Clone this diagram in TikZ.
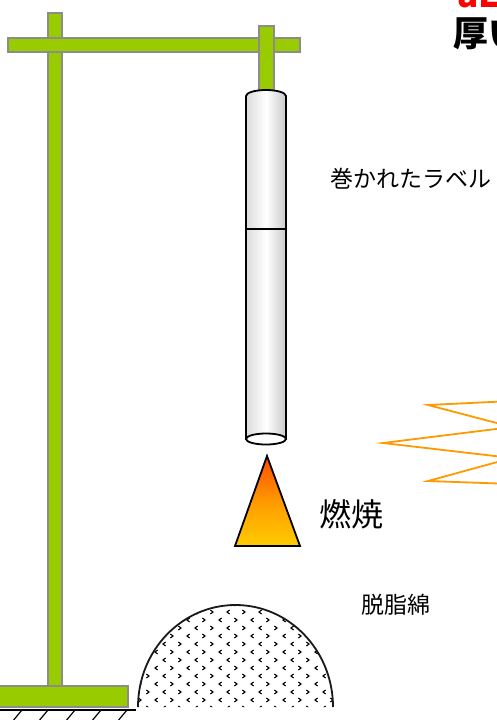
\documentclass[tikz,border=0pt]{standalone}
\usepackage{fontspec}
\newfontfamily\jp{Noto Sans CJK JP}

\definecolor{standgreen}{HTML}{99CC00}
\definecolor{flamered}{HTML}{FF4A00}
\definecolor{flameorange}{HTML}{FF9A00}
\definecolor{flameyellow}{HTML}{FFCC00}
\definecolor{sparkorange}{HTML}{FF9900}

\begin{document}
\begin{tikzpicture}[
  x=1pt, y=-1pt,
  stand/.style={fill=standgreen,draw=gray!90,line width=1.4pt},
  tube/.style={left color=gray!28,right color=gray!42,middle color=white,draw=black,line width=1.8pt},
  flame/.style={top color=flamered,bottom color=flameyellow,middle color=flameorange,draw=black,line width=1.8pt},
  spark/.style={draw=sparkorange,line width=1.8pt,line join=miter},
  fibre/.style={line width=1.1pt},
  label/.style={font=\jp\fontsize{23}{26}\selectfont,text=black,inner sep=0pt},
  title/.style={font=\jp\bfseries\fontsize{35}{40}\selectfont,inner sep=0pt}
]
  \clip (0,0) rectangle (497,720);

  % stand: pole, arm and hanger
  \draw[stand] (48,13) rectangle (62,688);
  \draw[stand] (8,38) rectangle (300,52);
  \draw[stand] (259,26) rectangle (274,92);
  \draw[stand] (-5,686) rectangle (128,707);

  % floor
  \draw[line width=1.2pt] (0,710) -- (136,710);
  \foreach \x in {22,48,75,101,127}
    \draw[line width=1.2pt] (\x,710) -- ++(-10,12);

  % rolled label on the hanger
  \draw[tube] (246,439) -- (246,96)
    arc[start angle=180,end angle=360,x radius=20,y radius=6] -- (286,439) -- cycle;
  \draw[line width=1.8pt] (246,229) -- (286,229);
  \draw[fill=white,line width=1.8pt] (266,439) ellipse[x radius=20,y radius=5.5];

  % flame
  \draw[flame] (267,456) -- (300,546) -- (235,546) -- cycle;

  % cotton
  \begin{scope}
    \clip (138,707) arc[start angle=180,end angle=360,x radius=97.5,y radius=102];
    \foreach \r in {0,...,13} {
      \foreach \c in {0,...,12} {
        \pgfmathsetmacro{\px}{140+16*\c+8*mod(\r,2)}
        \pgfmathsetmacro{\py}{604+8*\r}
        \ifodd\c
          \draw[fibre] (\px+1.6,\py-2) -- (\px-1,\py) -- (\px+1.6,\py+2);
        \else
          \draw[fibre] (\px-1.6,\py-2) -- (\px+1,\py) -- (\px-1.6,\py+2);
        \fi
      }
    }
  \end{scope}
  \draw[draw=black!90,line width=1.8pt] (138,707)
    arc[start angle=180,end angle=360,x radius=97.5,y radius=102];

  % heat
  \draw[spark] (512,401) -- (428,405) -- (512,427) -- (383,443)
    -- (512,458) -- (428,481) -- (512,484);

  % texts
  \node[label,anchor=west] (rolled) at (330,179) {巻かれたラベル};
  \node[font=\jp\fontsize{32}{36}\selectfont,text=black,inner sep=0pt,anchor=west] (burning) at (319,514) {燃焼};
  \node[label,anchor=west] (cotton) at (361,605) {脱脂綿};
  \node[title,anchor=west] (thick) at (453,34) {厚い};
  \node[title,text=red,anchor=base west] (head) at (457,8) {aL};
\end{tikzpicture}
\end{document}
